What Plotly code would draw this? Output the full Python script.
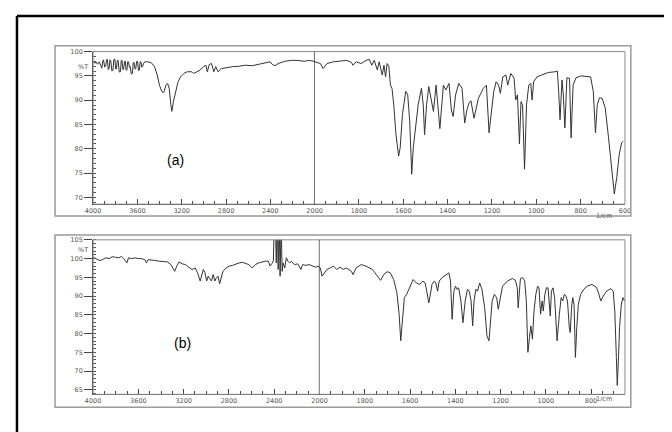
import numpy as np
import plotly.graph_objects as go

# ---------------- data: panel (a) ----------------
wn_a = [3997, 3985, 3974, 3960, 3944, 3932, 3921, 3912, 3906, 3895, 3885, 3878, 3871, 3863, 3856,
        3848, 3841, 3830, 3821, 3812, 3803, 3796, 3789, 3781, 3774, 3764, 3753, 3746, 3739, 3731,
        3724, 3716, 3709, 3702, 3695, 3688, 3680, 3672, 3665, 3655, 3645, 3638, 3630, 3622, 3615,
        3606, 3598, 3590, 3583, 3575, 3568, 3561, 3554, 3543, 3533, 3504, 3474,
        3445, 3421, 3401, 3380, 3363, 3342, 3327, 3313, 3298, 3289, 3275, 3254, 3233, 3210, 3181,
        3151, 3107, 3092, 3063, 3034, 3004, 2981, 2969, 2951, 2931, 2910, 2893, 2872, 2843, 2799,
        2740, 2681, 2622, 2564, 2505, 2446, 2402, 2382, 2358, 2329, 2270, 2211, 2153, 2094, 2050,
        2006, 1974, 1962, 1944, 1915, 1885, 1856, 1834, 1827, 1812, 1790, 1768, 1753, 1742, 1731,
        1717, 1709, 1695, 1687, 1680, 1673, 1665, 1658, 1651, 1643, 1633, 1621, 1614, 1604, 1589,
        1580, 1571, 1562, 1555, 1543, 1533, 1518, 1510, 1504, 1495, 1485, 1474, 1464, 1452, 1435,
        1419, 1408, 1394, 1383, 1375, 1364, 1350, 1335, 1323, 1313, 1304, 1295, 1281, 1261, 1239,
        1225, 1213, 1203, 1192, 1181, 1170, 1162, 1151, 1137, 1129, 1115, 1100, 1093, 1085, 1076,
        1069, 1062, 1053, 1044, 1034, 1025, 1019, 1012, 997, 975, 946, 916, 905, 899, 893,
        884, 878, 871, 862, 850, 843, 834, 821, 799, 755, 743, 733, 725, 715, 703,
        689, 674, 659, 648, 637, 626, 615, 608]
t_a = [98.0, 97.6, 97.9, 97.4, 97.9, 97.0, 96.6, 98.1, 98.3, 96.8, 97.2, 98.3, 98.4, 96.3, 96.5,
       98.3, 98.2, 96.0, 96.2, 98.4, 98.4, 96.4, 96.5, 98.2, 98.2, 95.8, 95.85, 98.2, 98.2, 96.3,
       96.4, 98.0, 98.0, 96.2, 96.2, 97.9, 97.9, 96.8, 96.9, 95.4, 95.5, 97.7, 97.75, 96.4, 96.5,
       98.0, 98.0, 96.1, 96.2, 97.9, 97.9, 96.8, 96.9, 97.6, 97.9, 97.9, 97.7,
       96.9, 95.2, 93.1, 91.8, 91.55, 93.1, 93.45, 92.45, 89.05, 87.7, 89.7, 91.8, 93.8, 94.8, 95.5,
       95.85, 95.85, 95.5, 95.85, 96.2, 96.9, 97.2, 95.85, 97.35, 97.55, 95.85, 96.9, 95.85, 96.5, 96.7,
       96.9, 97.0, 97.2, 97.1, 97.35, 97.6, 97.9, 97.35, 97.1, 97.55, 98.0, 98.2, 98.2, 98.0, 98.2,
       98.0, 97.55, 96.5, 97.55, 97.9, 98.0, 98.2, 97.8, 97.2, 97.9, 97.55, 98.2, 98.4, 97.2, 98.2,
       96.2, 97.9, 95.2, 97.2, 94.8, 97.55, 96.9, 93.1, 92.45, 89.05, 82.9, 78.5, 80.2, 87.0, 91.8,
       91.1, 85.65, 74.75, 80.2, 85.65, 89.05, 92.45, 89.05, 82.9, 89.05, 92.8, 90.4, 87.7, 93.1, 84.15,
       93.1, 92.1, 93.45, 88.0, 86.65, 91.1, 93.45, 92.45, 85.3, 88.0, 89.4, 89.9, 86.3, 90.4, 92.45,
       93.1, 83.3, 87.7, 91.8, 93.8, 93.1, 91.4, 94.8, 95.2, 93.1, 95.5, 94.5, 90.05, 91.1, 81.0,
       89.7, 89.05, 75.8, 89.05, 93.1, 93.45, 90.05, 93.8, 94.8, 95.2, 95.7, 95.85, 96.0, 91.8, 86.0,
       94.15, 91.1, 84.3, 94.6, 94.5, 82.25, 93.1, 94.6, 95.0, 94.8, 91.8, 83.3, 89.05, 90.5, 90.4,
       88.4, 82.25, 75.4, 70.7, 74.1, 78.8, 81.2, 81.55]

# ---------------- data: panel (b) ----------------
wn_b = [3997, 3974, 3945, 3917, 3888, 3859, 3830, 3802, 3773, 3750, 3730, 3701, 3687, 3658, 3629,
        3600, 3572, 3543, 3529, 3514, 3485, 3457, 3414, 3371, 3342, 3313, 3290, 3279, 3261, 3241,
        3212, 3184, 3155, 3126, 3098, 3077, 3054, 3040, 3026, 3011, 2997, 2983, 2968, 2954, 2939,
        2925, 2911, 2896, 2882, 2868, 2853, 2825, 2796, 2767, 2738, 2710, 2681, 2652, 2623, 2595,
        2566, 2537, 2508, 2480, 2451, 2437, 2422, 2408, 2399, 2390, 2382, 2373, 2365, 2356, 2348,
        2339, 2330, 2322, 2307, 2293, 2279, 2264, 2250, 2221, 2192, 2164, 2149, 2120, 2092, 2063,
        2034, 2005, 1996, 1989, 1967, 1953, 1938, 1924, 1909, 1895, 1881, 1859, 1852, 1838, 1816,
        1795, 1766, 1744, 1730, 1716, 1701, 1687, 1672, 1658, 1648, 1641, 1634, 1625, 1615, 1600,
        1586, 1572, 1557, 1543, 1533, 1526, 1517, 1510, 1503, 1493, 1486, 1478, 1471, 1457, 1442,
        1428, 1421, 1414, 1406, 1399, 1392, 1385, 1375, 1366, 1356, 1346, 1338, 1330, 1323, 1317,
        1309, 1302, 1292, 1282, 1270, 1260, 1251, 1246, 1237, 1227, 1217, 1210, 1202, 1191, 1169,
        1148, 1134, 1126, 1122, 1116, 1112, 1102, 1093, 1086, 1079, 1072, 1066, 1059, 1052, 1044,
        1036, 1030, 1023, 1016, 1011, 1004, 997, 990, 985, 980, 975, 968, 961, 954, 950,
        940, 932, 925, 918, 911, 904, 896, 892, 886, 881, 875, 869, 863, 856, 846,
        832, 817, 796, 777, 767, 757, 746, 731, 712, 702, 695, 688, 684, 678, 674,
        666, 659, 652]
t_b = [100.35, 100.0, 99.5, 99.7, 100.2, 100.0, 100.5, 100.35, 100.2, 100.6, 100.0, 98.85, 100.2, 100.0, 100.2,
       100.0, 100.0, 99.7, 98.85, 99.7, 99.5, 99.5, 99.3, 99.3, 99.1, 98.4, 97.1, 96.6, 98.0, 99.1,
       98.6, 98.4, 97.7, 97.1, 97.5, 96.2, 94.0, 95.3, 97.1, 96.2, 94.0, 95.3, 94.4, 94.0, 95.75,
       94.0, 94.9, 95.3, 93.3, 95.3, 96.6, 97.5, 98.0, 98.2, 98.6, 98.85, 99.0, 98.6, 98.4, 97.5,
       98.4, 98.85, 99.1, 99.3, 99.3, 98.0, 98.6, 99.3, 110.0, 110.0, 98.85, 110.0, 97.1, 110.0, 95.3,
       110.0, 96.6, 98.85, 97.5, 100.2, 99.3, 98.85, 99.3, 98.4, 98.6, 97.1, 98.4, 98.2, 98.4, 98.0,
       97.7, 98.0, 97.5, 95.3, 97.1, 97.5, 98.0, 97.1, 97.7, 97.1, 97.5, 96.6, 95.75, 97.5, 98.4,
       98.0, 97.1, 95.3, 94.2, 95.75, 96.5, 96.2, 94.4, 90.9, 85.15, 78.1, 84.3, 89.6, 90.45, 92.65,
       94.4, 93.5, 93.1, 94.0, 93.5, 91.3, 88.2, 90.45, 93.1, 94.0, 93.5, 91.3, 94.0, 95.0, 95.75,
       96.2, 94.0, 83.8, 91.3, 92.65, 91.8, 92.2, 88.7, 82.9, 88.7, 91.8, 91.3, 88.7, 82.05, 88.7,
       91.8, 91.3, 93.5, 91.8, 86.9, 79.4, 78.1, 81.6, 88.7, 90.45, 89.6, 86.5, 89.6, 92.65, 94.0,
       94.7, 94.2, 92.2, 86.9, 92.2, 94.7, 94.9, 94.0, 88.7, 75.0, 78.95, 82.05, 78.5, 86.0, 90.45,
       92.65, 92.2, 85.15, 88.7, 86.0, 90.45, 92.2, 92.2, 88.7, 84.7, 91.3, 92.2, 89.6, 82.05, 78.1,
       85.15, 89.6, 88.7, 90.45, 90.0, 88.7, 81.6, 80.3, 86.9, 89.6, 87.8, 73.65, 81.6, 87.8, 90.45,
       91.8, 92.65, 93.1, 92.4, 90.9, 88.7, 90.0, 91.3, 92.0, 91.3, 86.0, 73.65, 66.15, 74.5, 81.6,
       87.8, 89.6, 88.7]

# tick labels
hi_ticks = [4000, 3600, 3200, 2800, 2400, 2000]
lo_ticks_a = [1800, 1600, 1400, 1200, 1000, 800, 600]
lo_ticks_b = [1800, 1600, 1400, 1200, 1000, 800]
y_ticks_a = [70, 75, 80, 85, 90, 95, 100]
y_ticks_b = [65, 70, 75, 80, 85, 90, 95, 100, 105]

# page body has an 8px margin: figure sits at (8, 8) inside the 672x432 window
OFF = 8
W, H = 672 - OFF, 432 - OFF
def px(x): return (x - OFF) / W
def py(y): return 1 - (y - OFF) / H

LINE = "#333333"
TICKC = "#555555"
FONT = "Liberation Sans, Arial, sans-serif"
TFONT = "DejaVu Sans, Verdana, sans-serif"

def split(wn, t):
    wn = np.array(wn, float); t = np.array(t, float)
    i_hi = np.where(wn >= 1960)[0]
    i_lo = np.where(wn <= 2010)[0]
    return (wn[i_hi], t[i_hi]), (wn[i_lo], t[i_lo])

fig = go.Figure()
(ah, al) = split(wn_a, t_a)
(bh, bl) = split(wn_b, t_b)
ln = dict(color=LINE, width=1)
fig.add_trace(go.Scatter(x=ah[0], y=ah[1], mode="lines", line=ln, xaxis="x", yaxis="y", showlegend=False))
fig.add_trace(go.Scatter(x=al[0], y=al[1], mode="lines", line=ln, xaxis="x2", yaxis="y", showlegend=False))
fig.add_trace(go.Scatter(x=bh[0], y=bh[1], mode="lines", line=ln, xaxis="x3", yaxis="y2", showlegend=False))
fig.add_trace(go.Scatter(x=bl[0], y=bl[1], mode="lines", line=ln, xaxis="x4", yaxis="y2", showlegend=False))

tickfont = dict(family=TFONT, size=6.5, color=TICKC)

def xax(domain, rng, anchor, tickvals, minor_dtick):
    return dict(domain=domain, range=rng, anchor=anchor, tickmode="array", tickvals=tickvals,
                ticks="inside", ticklen=5, tickcolor="#444", tickwidth=1,
                minor=dict(ticks="inside", ticklen=3, dtick=minor_dtick, tickcolor="#444"),
                showline=True, linecolor="#444", linewidth=1, showgrid=False, zeroline=False,
                tickfont=tickfont)

def yax(domain, rng, anchor, tickvals):
    return dict(domain=domain, range=rng, anchor=anchor, tickmode="array", tickvals=tickvals,
                ticks="outside", ticklen=8, tickcolor="#444", tickwidth=1,
                minor=dict(ticks="inside", ticklen=3, dtick=1, tickcolor="#555"),
                showline=True, linecolor="#444", linewidth=1, showgrid=False, zeroline=False,
                tickfont=tickfont)

xa_l, xa_m, xa_r = px(87), px(314), px(632)
xb_m = px(319)
ya = [py(202), py(48)]
yb = [py(394), py(238)]

fig.update_layout(
    width=W, height=H, margin=dict(l=0, r=0, t=0, b=0),
    paper_bgcolor="white", plot_bgcolor="white",
    xaxis=xax([xa_l, xa_m], [4000, 2000], "y", hi_ticks, 100),
    xaxis2=xax([xa_m, xa_r], [2000, 600], "y", lo_ticks_a, 50),
    xaxis3=xax([xa_l, xb_m], [4000, 2000], "y2", hi_ticks, 100),
    xaxis4=xax([xb_m, xa_r], [2000, 650], "y2", lo_ticks_b, 50),
    yaxis=yax(ya, [68.6, 100], "x", y_ticks_a),
    yaxis2=yax(yb, [63.8, 105], "x3", y_ticks_b),
)

shapes = []
# outer black frame (cropped on right and bottom)
shapes.append(dict(type="line", xref="paper", yref="paper", x0=px(9), x1=1.05, y0=py(12), y1=py(12),
                   line=dict(color="black", width=2.5)))
shapes.append(dict(type="line", xref="paper", yref="paper", x0=px(9), x1=px(9), y0=py(12), y1=-0.05,
                   line=dict(color="black", width=2.5)))
# panel frames
for (t0, b0) in [(42, 214), (233, 407)]:
    shapes.append(dict(type="rect", xref="paper", yref="paper", x0=px(48), x1=px(638), y0=py(b0), y1=py(t0),
                       line=dict(color="#9a9a9a", width=1.5)))
# plot area borders
for yd in [ya, yb]:
    shapes.append(dict(type="rect", xref="paper", yref="paper", x0=xa_l, x1=xa_r, y0=yd[0], y1=yd[1],
                       line=dict(color="#8a8a8a", width=1)))
# 2000 cm-1 divider lines
shapes.append(dict(type="line", xref="x", yref="y domain", x0=2000, x1=2000, y0=0, y1=1,
                   line=dict(color="#222", width=1.3)))
shapes.append(dict(type="line", xref="x3", yref="y2 domain", x0=2000, x1=2000, y0=0, y1=1,
                   line=dict(color="#222", width=1.3)))
fig.update_layout(shapes=shapes)

ann = []
ann.append(dict(text="(a)", x=px(161), y=py(157), xref="paper", yref="paper", showarrow=False,
                font=dict(family=FONT, size=14, color="black")))
ann.append(dict(text="(b)", x=px(168), y=py(352), xref="paper", yref="paper", showarrow=False,
                font=dict(family=FONT, size=14, color="black")))
for yy in [57, 248]:
    ann.append(dict(text="%T", x=px(69), y=py(yy), xref="paper", yref="paper", showarrow=False,
                    font=tickfont))
for yy in [214, 405]:
    ann.append(dict(text="1/cm", x=px(621), y=py(yy), xref="paper", yref="paper", showarrow=False,
                    font=tickfont))
fig.update_layout(annotations=ann)

fig.write_html("out.html")
